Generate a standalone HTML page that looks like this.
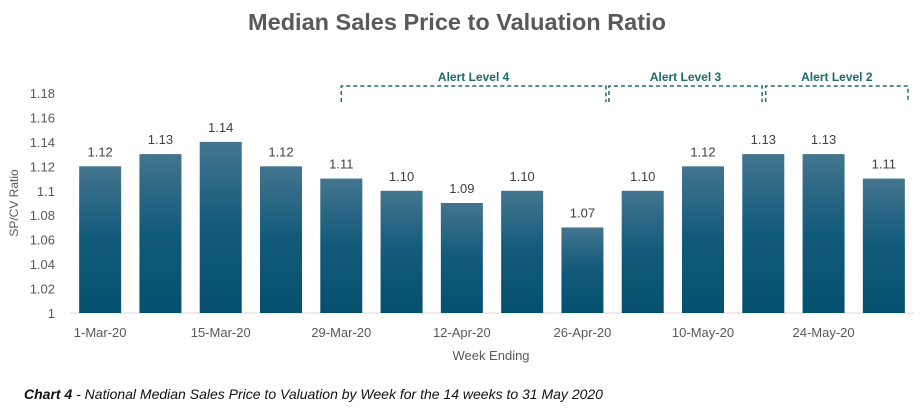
<!DOCTYPE html>
<html><head><meta charset="utf-8"><style>
body{margin:0;background:#fff;width:922px;height:413px;overflow:hidden;font-family:"Liberation Sans",sans-serif}
</style></head><body>
<svg id="chart" width="922" height="413" xmlns="http://www.w3.org/2000/svg">
<defs><linearGradient id="g" x1="0" y1="0" x2="0" y2="1"><stop offset="0" stop-color="#44758f"/><stop offset="0.5" stop-color="#115a7a"/><stop offset="1" stop-color="#06506f"/></linearGradient></defs>
<text x="457" y="30" text-anchor="middle" font-size="23.5" font-weight="bold" fill="#595959">Median Sales Price to Valuation Ratio</text>
<text transform="translate(18,203) rotate(-90)" text-anchor="middle" font-size="12" fill="#595959">SP/CV Ratio</text>
<text x="491" y="360" text-anchor="middle" font-size="13" fill="#595959">Week Ending</text>
<text x="24" y="399" font-size="14" font-style="italic" fill="#111"><tspan font-weight="bold">Chart 4</tspan> - National Median Sales Price to Valuation by Week for the 14 weeks to 31 May 2020</text>
<g id="axes"></g><g id="bars"></g><g id="alerts"></g>
</svg>
<script>
const categories=["1-Mar-20","8-Mar-20","15-Mar-20","22-Mar-20","29-Mar-20","5-Apr-20","12-Apr-20","19-Apr-20","26-Apr-20","3-May-20","10-May-20","17-May-20","24-May-20","31-May-20"];
const values=[1.12,1.13,1.14,1.12,1.11,1.10,1.09,1.10,1.07,1.10,1.12,1.13,1.13,1.11];
const yTicks=[1,1.02,1.04,1.06,1.08,1.1,1.12,1.14,1.16,1.18];
const alertLabels=["Alert Level 4","Alert Level 3","Alert Level 2"];
const alertStart=[4,8.44,11.04];
const alertEnd=[8.39,10.98,13.4];
const NS="http://www.w3.org/2000/svg";
const x0=70,x1=914,yB=313,yT=93,vMin=1,vMax=1.18;
const step=(x1-x0)/categories.length;
const xc=i=>x0+step*(i+0.5);
const y=v=>yB-(v-vMin)/(vMax-vMin)*(yB-yT);
function mk(t,a,p){const e=document.createElementNS(NS,t);for(const k in a)e.setAttribute(k,a[k]);p.appendChild(e);return e;}
const axes=document.getElementById('axes'),bars=document.getElementById('bars'),al=document.getElementById('alerts');
const base=mk('line',{x1:x0,x2:x1,y1:yB,y2:yB,stroke:'#d9d9d9','stroke-width':1},axes);


yTicks.forEach(t=>{const e=mk('text',{x:55,y:y(t)+5,'text-anchor':'end','font-size':13,fill:'#595959'},axes);e.textContent=String(t);

});
categories.forEach((c,i)=>{
 const r=mk('rect',{x:xc(i)-21,y:y(values[i]),width:42,height:yB-y(values[i]),fill:'url(#g)'},bars);
 
 
 const l=mk('text',{x:xc(i),y:y(values[i])-10,'text-anchor':'middle','font-size':13,fill:'#404040'},bars);l.textContent=values[i].toFixed(2);
 
 
 if(i%2===0){const t=mk('text',{x:xc(i),y:337,'text-anchor':'middle','font-size':13,fill:'#595959'},axes);t.textContent=c;
 
 }
});
alertLabels.forEach((lab,k)=>{
 const ax=xc(alertStart[k]),bx=xc(alertEnd[k]);
 const p=mk('path',{d:`M${ax},102 V86 H${bx} V102`,fill:'none',stroke:'#1f6a6a','stroke-width':1.5,'stroke-dasharray':'4,3'},al);
 
 
 const t=mk('text',{x:(ax+bx)/2,y:81,'text-anchor':'middle','font-size':12,'font-weight':'bold',fill:'#1f6a6a'},al);t.textContent=lab;
 
 
});
</script>
</body></html>
